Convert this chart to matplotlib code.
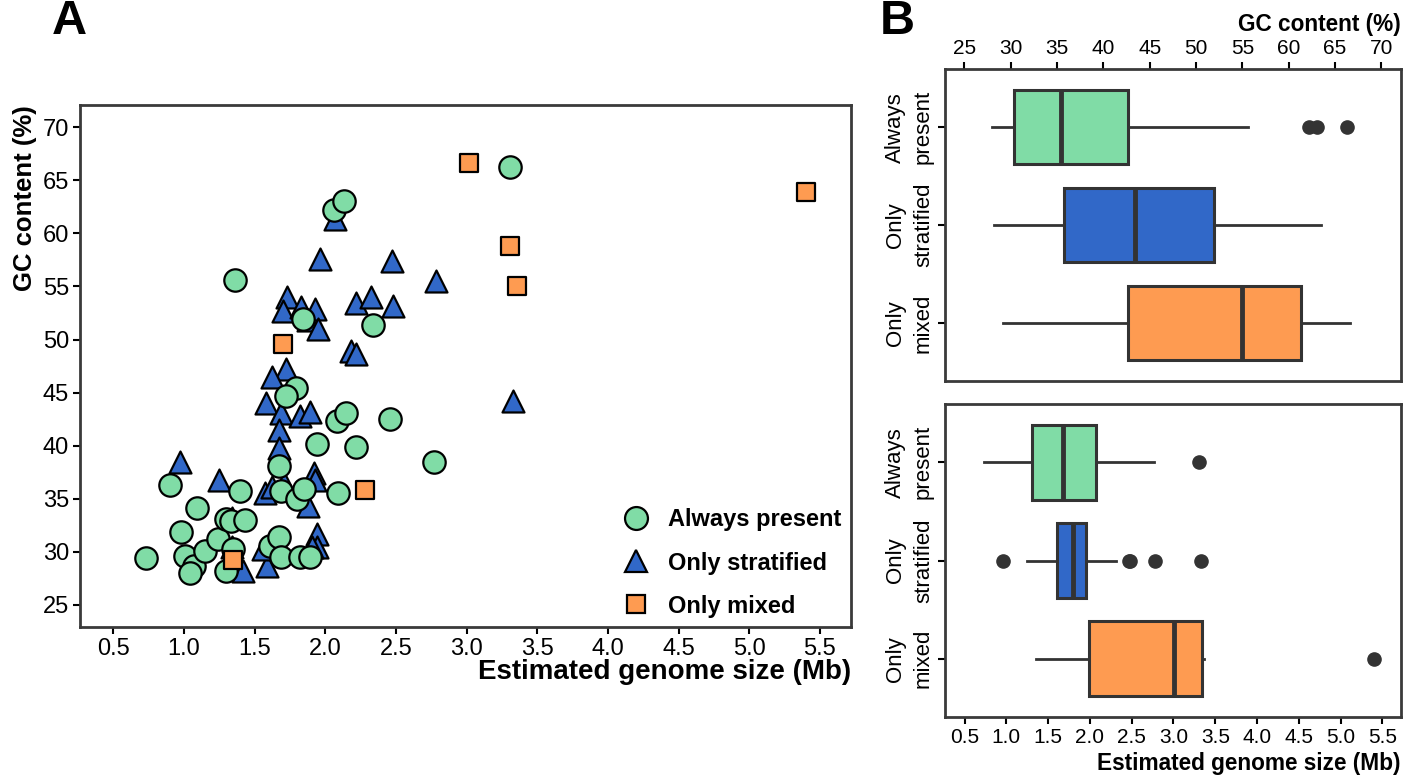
import matplotlib
matplotlib.use('Agg')
import matplotlib.pyplot as plt
from matplotlib.lines import Line2D

plt.rcParams['font.family'] = ['Liberation Sans', 'DejaVu Sans']

groups = ['Always present', 'Only stratified', 'Only mixed']
box_labels = ['Always\npresent', 'Only\nstratified', 'Only\nmixed']
colors = ['#80dca6', '#3168c8', '#fe9b51']
edge_grey = '#333333'

# scatter data (genome size in Mb, GC in %)
always_size = [0.73, 0.90, 0.98, 1.01, 1.07, 1.04, 1.09, 1.15, 1.24, 1.30, 1.33, 1.43, 1.40,
               1.35, 1.30, 1.61, 1.67, 1.69, 1.82, 1.89, 1.67, 1.69, 1.80, 1.85, 1.94, 2.22,
               2.09, 2.08, 2.15, 2.46, 2.77, 1.84, 2.34, 1.79, 1.72, 1.36, 2.06, 2.13, 3.31]
always_gc = [29.4, 36.3, 31.9, 29.6, 28.7, 28.0, 34.1, 30.1, 31.2, 33.1, 32.9, 33.0, 35.7,
             30.3, 28.2, 30.5, 31.35, 29.5, 29.5, 29.5, 38.1, 35.75, 35.0, 35.9, 40.2, 39.9,
             35.5, 42.3, 43.1, 42.5, 38.5, 51.9, 51.4, 45.4, 44.7, 55.6, 62.2, 63.1, 66.3]

strat_size = [2.07, 1.96, 2.47, 2.78, 1.73, 1.70, 1.83, 1.93, 1.88, 1.95, 2.22, 2.32, 2.48,
              2.18, 2.22, 1.72, 1.62, 1.58, 1.69, 1.82, 1.89, 1.67, 1.67, 0.97, 1.25, 1.57,
              1.62, 1.71, 1.92, 1.93, 1.88, 1.34, 1.94, 1.94, 1.59, 1.42, 1.34, 3.33, 1.56, 1.905]
strat_gc = [61.4, 57.6, 57.4, 55.5, 54.0, 52.7, 53.05, 52.9, 51.8, 51.0, 53.4, 54.0, 53.2,
            48.9, 48.65, 47.2, 46.5, 44.0, 43.1, 42.8, 43.2, 41.5, 39.8, 38.5, 36.8, 35.5,
            36.1, 36.5, 37.4, 36.8, 34.3, 33.2, 31.7, 30.4, 28.7, 28.2, 30.4, 44.2, 30.3, 30.4]

mixed_size = [3.02, 5.40, 3.31, 3.36, 1.70, 2.28, 1.35]
mixed_gc = [66.6, 63.9, 58.8, 55.0, 49.6, 35.8, 29.2]

# box summaries
gc_med = [35.4, 43.4, 55.0]
gc_q1 = [30.4, 35.7, 42.7]
gc_q3 = [42.7, 51.9, 61.35]
gc_lo = [28.0, 28.2, 29.2]
gc_hi = [55.6, 63.5, 66.6]
gc_out = [[62.2, 63.1, 66.3], [], []]

size_med = [1.68, 1.80, 3.01]
size_q1 = [1.31, 1.61, 1.99]
size_q3 = [2.07, 1.95, 3.34]
size_lo = [0.73, 1.25, 1.35]
size_hi = [2.77, 2.31, 3.36]
size_out = [[3.31], [0.96, 2.47, 2.48, 2.78, 3.33], [5.40]]

size_ticks = [0.5, 1.0, 1.5, 2.0, 2.5, 3.0, 3.5, 4.0, 4.5, 5.0, 5.5]
gc_ticks = [25, 30, 35, 40, 45, 50, 55, 60, 65, 70]
size_lim = (0.264, 5.72)
gc_lim = (22.9, 72.1)


def style_axes(ax, fs):
    for sp in ax.spines.values():
        sp.set_color('#3a3a3a')
        sp.set_linewidth(2.0)
    ax.tick_params(length=5, width=1.5, color='black', labelsize=fs, pad=3)


fig = plt.figure(figsize=(14.18, 7.78), dpi=100)

# Panel A: scatter
axA = fig.add_axes([0.0564, 0.194, 0.5437, 0.671])
axA.scatter(strat_size, strat_gc, marker='^', s=250, c=colors[1], edgecolors='black',
            linewidths=1.6, zorder=3)
axA.scatter(always_size, always_gc, marker='o', s=260, c=colors[0], edgecolors='black',
            linewidths=1.6, zorder=4)
axA.scatter(mixed_size, mixed_gc, marker='s', s=165, c=colors[2], edgecolors='black',
            linewidths=1.6, zorder=5)
axA.set_xlim(*size_lim)
axA.set_ylim(*gc_lim)
axA.set_xticks(size_ticks, [f'{t:.1f}' for t in size_ticks])
axA.set_yticks(gc_ticks)
style_axes(axA, 17)
axA.set_xlabel('Estimated genome size (Mb)', fontsize=20, fontweight='bold', loc='right',
               labelpad=-1)
axA.set_ylabel('GC content (%)', fontsize=18.5, fontweight='bold', loc='top', labelpad=4)

handles = [
    Line2D([], [], marker='o', ls='', ms=16.5, mfc=colors[0], mec='black', mew=1.6),
    Line2D([], [], marker='^', ls='', ms=16.5, mfc=colors[1], mec='black', mew=1.6),
    Line2D([], [], marker='s', ls='', ms=13, mfc=colors[2], mec='black', mew=1.6),
]
axA.legend(handles, groups, loc='lower right', frameon=False, prop={'weight': 'bold', 'size': 17},
           labelspacing=0.85, handletextpad=0.35, borderaxespad=0.0)


def draw_boxes(ax, med, q1, q3, lo, hi, out):
    stats = []
    for i in range(len(med)):
        stats.append(dict(med=med[i], q1=q1[i], q3=q3[i], whislo=lo[i], whishi=hi[i],
                          fliers=out[i], label=box_labels[i]))
    res = ax.bxp(stats, positions=[0, 1, 2], widths=0.76, orientation='horizontal',
                 patch_artist=True, showcaps=False,
                 boxprops=dict(edgecolor=edge_grey, linewidth=2.2),
                 medianprops=dict(color=edge_grey, linewidth=3.5),
                 whiskerprops=dict(color=edge_grey, linewidth=2.0),
                 flierprops=dict(marker='o', markerfacecolor=edge_grey, markeredgecolor=edge_grey,
                                 markersize=9.5))
    for patch, col in zip(res['boxes'], colors):
        patch.set_facecolor(col)
    ax.set_ylim(2.59, -0.59)
    ax.set_yticks([0, 1, 2])
    ax.set_yticklabels(box_labels, rotation=90, va='center', ha='right', multialignment='center',
                       linespacing=1.45, fontsize=16)


# Panel B top: GC content
axB1 = fig.add_axes([0.6664, 0.5103, 0.3214, 0.4006])
draw_boxes(axB1, gc_med, gc_q1, gc_q3, gc_lo, gc_hi, gc_out)
axB1.set_xlim(*gc_lim)
axB1.set_xticks(gc_ticks)
axB1.xaxis.tick_top()
axB1.xaxis.set_label_position('top')
style_axes(axB1, 15)
axB1.tick_params(axis='y', labelsize=16)
axB1.set_xlabel('GC content (%)', fontsize=16.3, fontweight='bold', loc='right', labelpad=6)

# Panel B bottom: genome size
axB2 = fig.add_axes([0.6664, 0.0788, 0.3214, 0.4015])
draw_boxes(axB2, size_med, size_q1, size_q3, size_lo, size_hi, size_out)
axB2.set_xlim(*size_lim)
axB2.set_xticks(size_ticks, [f'{t:.1f}' for t in size_ticks])
style_axes(axB2, 15)
axB2.tick_params(axis='y', labelsize=16)
axB2.set_xlabel('Estimated genome size (Mb)', fontsize=16.3, fontweight='bold', loc='right',
                labelpad=4)

fig.text(0.049, 0.973, 'A', fontsize=35, fontweight='bold', ha='center', va='center')
fig.text(0.633, 0.973, 'B', fontsize=35, fontweight='bold', ha='center', va='center')

fig.savefig('out.png', dpi=100)
